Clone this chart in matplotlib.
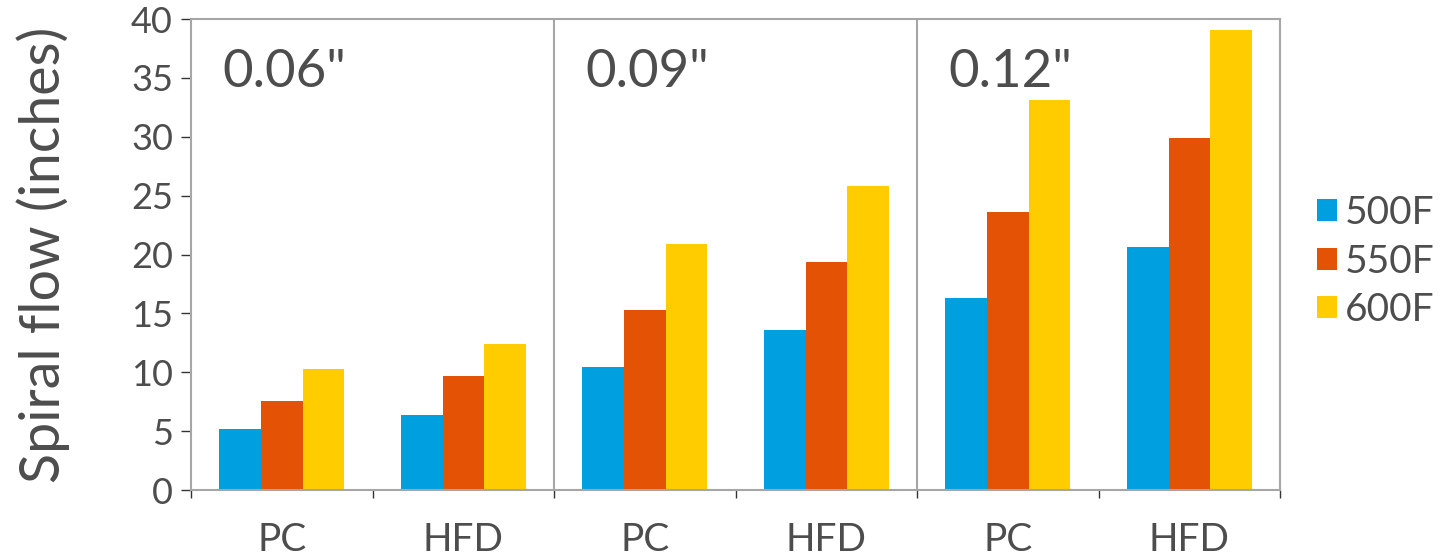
import numpy as np
import matplotlib
matplotlib.use("Agg")
import matplotlib.pyplot as plt

plt.rcParams['font.family'] = ['Lato', 'DejaVu Sans']

# data
categories = ['PC', 'HFD', 'PC', 'HFD', 'PC', 'HFD']
thickness = ['0.06"', '0.09"', '0.12"']
series = ['500F', '550F', '600F']
v500 = [5.2, 6.4, 10.45, 13.6, 16.3, 20.6]
v550 = [7.6, 9.7, 15.3, 19.4, 23.6, 29.9]
v600 = [10.3, 12.4, 20.9, 25.8, 33.1, 39.1]
colors = ['#009FDF', '#E35205', '#FFCC00']

txt = '#4D4D4D'
grey = '#A6A6A6'

fig = plt.figure(figsize=(14.42, 5.59), dpi=100)
ax = fig.add_axes([0.1325, 0.1234, 0.7552, 0.8426])

x = np.arange(len(categories))
w = 0.229
for i, (vals, c, name) in enumerate(zip([v500, v550, v600], colors, series)):
    ax.bar(x + (i - 1) * w, vals, width=w, color=c, label=name, zorder=2)

# separators between thickness groups
for b in [1.5, 3.5]:
    ax.axvline(b, color=grey, lw=1.5, zorder=1)

ax.set_xlim(-0.5, 5.5)
ax.set_ylim(0, 40)
ax.set_yticks(range(0, 41, 5))
ax.tick_params(axis='y', length=7, width=1, color='#333333', labelsize=26,
               labelcolor=txt, pad=6)

ax.set_xticks(np.arange(-0.5, 6.0, 1.0))
ax.set_xticklabels([])
ax.tick_params(axis='x', which='major', length=6, width=1, color='#333333')
ax.set_xticks(x, minor=True)
ax.set_xticklabels(categories, minor=True)
ax.tick_params(axis='x', which='minor', length=0, labelsize=28,
               labelcolor=txt, pad=23)

for s in ax.spines.values():
    s.set_color(grey)
    s.set_linewidth(1.5)

ax.set_ylabel('Spiral flow (inches)', fontsize=40, color=txt, labelpad=44)

for k, t in enumerate(thickness):
    ax.text(-0.33 + 2 * k, 34.2, t, fontsize=38, color=txt, ha='left',
            va='baseline')

leg = ax.legend(loc='center left', bbox_to_anchor=(1.02, 0.485), frameon=False,
                fontsize=28, handlelength=0.5, handleheight=0.5,
                handletextpad=0.2, labelspacing=0.32, borderaxespad=0)
for t in leg.get_texts():
    t.set_color(txt)

fig.savefig('out.png', dpi=100)
